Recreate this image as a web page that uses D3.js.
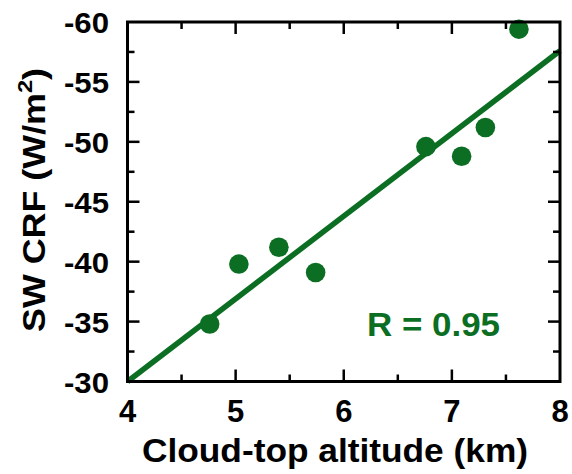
<!DOCTYPE html>
<html>
<head>
<meta charset="utf-8">
<script src="https://cdn.jsdelivr.net/npm/d3@7"></script>
<style>
  body { margin: 0; background: #fff; }
  text { font-family: "Liberation Sans", Arial, sans-serif; font-weight: bold; }
</style>
</head>
<body>
<div id="chart"></div>
<script>
// data
const altitude = [4.76, 5.03, 5.40, 5.74, 6.76, 7.09, 7.31, 7.62];
const swCrf = [-34.8, -39.8, -41.2, -39.1, -49.6, -48.8, -51.2, -59.4];
const fitX = [4, 8];
const fitY = [-30, -57.6];
const xTicks = [4, 5, 6, 7, 8];
const yTicks = [-30, -35, -40, -45, -50, -55, -60];
const xMinor = [4.5, 5.5, 6.5, 7.5];
const yMinor = [-32.5, -37.5, -42.5, -47.5, -52.5, -57.5];

const green = '#0b6e23';
const W = 572, H = 474;
const m = { left: 127.5, right: 12, top: 22, bottom: 92.5 };

const svg = d3.select('#chart').append('svg')
    .attr('width', W).attr('height', H);

const x = d3.scaleLinear().domain([4, 8]).range([m.left, W - m.right]);
const y = d3.scaleLinear().domain([-30, -60]).range([H - m.bottom, m.top]);

// fit line
svg.append('line')
    .attr('x1', x(fitX[0])).attr('y1', y(fitY[0]))
    .attr('x2', x(fitX[1])).attr('y2', y(fitY[1]))
    .attr('stroke', green).attr('stroke-width', 5.5);

// points
svg.selectAll('circle.pt').data(altitude).enter().append('circle')
    .attr('class', 'pt')
    .attr('cx', d => x(d))
    .attr('cy', (d, i) => y(swCrf[i]))
    .attr('r', 9.8)
    .attr('fill', green);

// inward ticks on all four sides
function xticks(vals, len) {
    vals.forEach(v => {
        [[y(-30), -1], [y(-60), 1]].forEach(([yy, dir]) => {
            svg.append('line')
                .attr('x1', x(v)).attr('x2', x(v))
                .attr('y1', yy).attr('y2', yy + dir * len)
                .attr('stroke', '#000').attr('stroke-width', 2.5);
        });
    });
}
function yticks(vals, len) {
    vals.forEach(v => {
        [[x(4), 1], [x(8), -1]].forEach(([xx, dir]) => {
            svg.append('line')
                .attr('y1', y(v)).attr('y2', y(v))
                .attr('x1', xx).attr('x2', xx + dir * len)
                .attr('stroke', '#000').attr('stroke-width', 2.5);
        });
    });
}
xticks(xTicks.slice(1, -1), 12);
xticks(xMinor, 7);
yticks(yTicks.slice(1, -1), 12);
yticks(yMinor, 7);

// frame
svg.append('rect')
    .attr('x', x(4)).attr('y', y(-60))
    .attr('width', x(8) - x(4)).attr('height', y(-30) - y(-60))
    .attr('fill', 'none').attr('stroke', '#000').attr('stroke-width', 3);

// tick labels
svg.selectAll('text.xl').data(xTicks).enter().append('text')
    .attr('class', 'xl')
    .attr('x', d => x(d)).attr('y', 422)
    .attr('text-anchor', 'middle')
    .attr('font-size', 31)
    .text(d => d);

svg.selectAll('text.yl').data(yTicks).enter().append('text')
    .attr('class', 'yl')
    .attr('x', 109).attr('y', d => y(d) + 11)
    .attr('text-anchor', 'end')
    .attr('font-size', 30)
    .attr('textLength', 45)
    .attr('lengthAdjust', 'spacingAndGlyphs')
    .text(d => d);

// axis titles
svg.append('text')
    .attr('x', 142).attr('y', 462)
    .attr('font-size', 33)
    .attr('textLength', 386)
    .attr('lengthAdjust', 'spacingAndGlyphs')
    .text('Cloud-top altitude (km)');

const yt = svg.append('text')
    .attr('transform', 'translate(45, 332) rotate(-90)')
    .attr('font-size', 32)
    .attr('textLength', 264)
    .attr('lengthAdjust', 'spacingAndGlyphs');
yt.append('tspan').text('SW CRF (W/m');
yt.append('tspan').attr('dy', -13).attr('font-size', 21).text('2');
yt.append('tspan').attr('dy', 13).text(')');

// correlation
svg.append('text')
    .attr('x', 367).attr('y', 336)
    .attr('font-size', 33)
    .attr('textLength', 133)
    .attr('lengthAdjust', 'spacingAndGlyphs')
    .attr('fill', green)
    .text('R = 0.95');
</script>
</body>
</html>
